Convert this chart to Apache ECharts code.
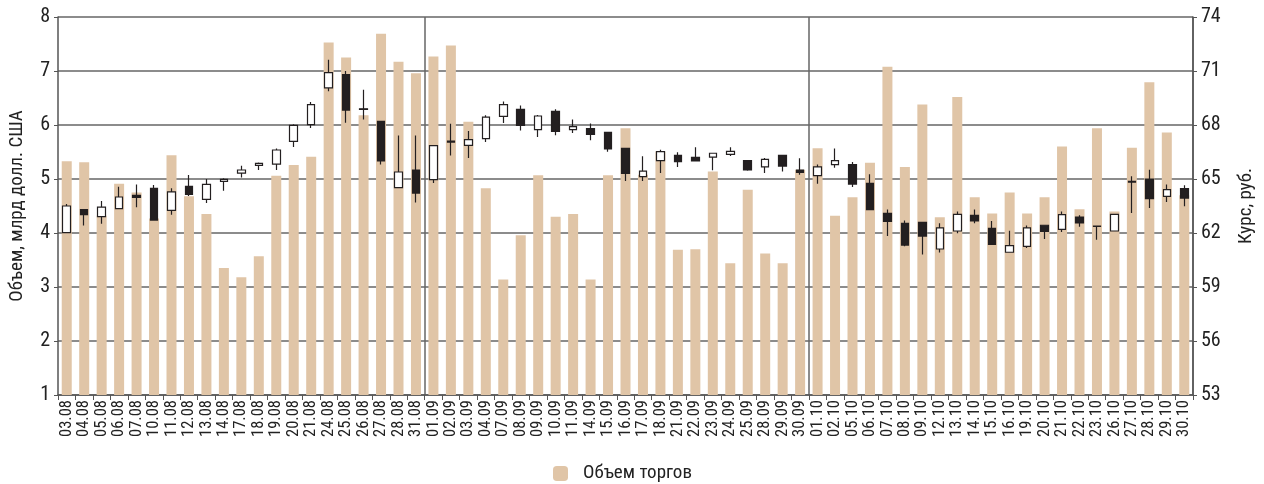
<!DOCTYPE html>
<html>
<head>
<meta charset="utf-8">
<script src="https://cdn.jsdelivr.net/npm/echarts@6/dist/echarts.min.js"></script>
<style>
html,body{margin:0;padding:0;background:#fff;}
#chart{width:1264px;height:484px;}
</style>
</head>
<body>
<div id="chart"></div>
<script>
const categories = ['03.08','04.08','05.08','06.08','07.08','10.08','11.08','12.08','13.08','14.08','17.08','18.08','19.08','20.08','21.08','24.08','25.08','26.08','27.08','28.08','31.08',
'01.09','02.09','03.09','04.09','07.09','08.09','09.09','10.09','11.09','14.09','15.09','16.09','17.09','18.09','21.09','22.09','23.09','24.09','25.09','28.09','29.09','30.09',
'01.10','02.10','05.10','06.10','07.10','08.10','09.10','12.10','13.10','14.10','15.10','16.10','19.10','20.10','21.10','22.10','23.10','26.10','27.10','28.10','29.10','30.10'];

const volume = [5.33,5.31,4.32,4.91,4.75,4.27,5.44,4.68,4.35,3.35,3.18,3.57,5.06,5.26,5.41,7.53,7.25,6.18,7.69,7.17,6.96,
7.27,7.47,6.06,4.83,3.14,3.96,5.07,4.30,4.35,3.14,5.07,5.94,5.08,5.51,3.69,3.70,5.14,3.44,4.80,3.62,3.44,5.17,
5.57,4.32,4.66,5.30,7.08,5.22,6.38,4.29,6.52,4.66,4.36,4.75,4.36,4.66,5.60,4.44,5.94,4.40,5.58,6.79,5.86,4.70];

const openP = [62.02,63.30,62.91,63.35,64.09,64.48,63.26,64.59,63.87,64.87,65.33,65.76,65.83,67.09,68.02,70.06,70.80,68.90,68.20,64.52,65.50,
64.96,67.05,66.87,67.24,68.48,68.87,67.74,68.76,67.74,67.80,67.59,66.70,65.13,66.02,66.31,66.20,66.22,66.37,66.02,65.67,66.31,65.50,
65.19,65.80,65.80,64.76,63.09,62.54,62.59,61.11,62.11,62.98,62.26,60.93,61.26,62.43,62.20,62.89,62.39,62.11,64.83,65.00,64.04,64.46];
const closeP = [63.50,63.02,63.44,64.00,63.98,62.72,64.28,64.15,64.70,64.98,65.50,65.87,66.61,67.98,69.13,70.91,68.83,68.87,66.00,65.39,64.22,
66.85,67.10,67.19,68.44,69.13,67.98,68.50,67.65,67.91,67.48,66.67,65.31,65.44,66.52,65.96,66.00,66.43,66.54,65.50,66.09,65.72,65.37,
65.67,66.02,64.72,63.30,62.65,61.33,61.83,62.28,63.04,62.67,61.37,61.30,62.28,62.09,63.02,62.56,62.37,63.04,64.87,63.91,64.41,63.94];
const lowP = [61.98,62.41,62.52,63.33,63.43,62.69,63.02,64.06,63.67,64.35,65.09,65.50,65.50,66.78,67.83,69.87,68.13,68.30,65.80,64.52,63.70,
64.78,66.30,66.17,67.06,68.11,67.70,67.33,67.43,67.56,67.15,66.52,64.89,64.89,65.33,65.67,66.00,65.48,66.28,65.46,65.33,65.41,65.24,
64.74,65.63,64.56,63.30,61.83,61.26,60.81,60.91,61.98,62.54,61.33,60.93,61.17,61.67,62.06,62.35,61.63,62.11,63.11,63.39,63.72,63.48];
const highP = [63.61,63.30,63.78,64.57,64.69,64.67,64.48,65.22,65.00,65.04,65.74,65.91,66.70,68.04,69.28,71.63,71.00,69.96,68.20,67.41,67.41,
66.87,68.07,67.67,68.54,69.30,69.09,68.56,68.87,68.30,68.09,67.63,66.70,66.26,66.63,66.48,66.76,66.46,66.76,66.04,66.17,66.35,66.15,
65.80,66.69,65.94,65.26,63.30,62.70,62.59,62.54,63.20,63.30,62.67,62.13,62.41,62.43,63.20,62.98,62.39,63.04,65.15,65.52,64.70,64.65];

const monthStarts = [21, 43];

const FONT = "'Liberation Sans Narrow','Roboto Condensed','DejaVu Sans Condensed','Liberation Sans',sans-serif";
const candleData = categories.map((c, i) => [openP[i], closeP[i], lowP[i], highP[i]]);

const chart = echarts.init(document.getElementById('chart'), null, {renderer: 'canvas'});
chart.setOption({
  animation: false,
  backgroundColor: '#fff',
  grid: {left: 52, right: 63, top: 17, bottom: 89, containLabel: false},
  legend: {
    data: ['Объем торгов'],
    left: 548, top: 459,
    itemWidth: 15, itemHeight: 15, itemGap: 10,
    textStyle: {fontFamily: FONT, fontSize: 19, color: '#222', padding: [0, 0, 0, 10]}
  },
  xAxis: {
    type: 'category',
    data: categories,
    boundaryGap: true,
    axisLine: {lineStyle: {color: '#555', width: 1.5}},
    axisTick: {show: true, interval: 0, length: 5, lineStyle: {color: '#555'}},
    axisLabel: {interval: 0, rotate: 90, fontFamily: FONT, fontSize: 16.5, color: '#222', margin: 5},
    splitLine: {show: true, interval: (idx) => monthStarts.indexOf(idx) >= 0, lineStyle: {color: '#666', width: 1.5}}
  },
  yAxis: [
    {
      type: 'value', min: 1, max: 8, interval: 1, position: 'left',
      name: 'Объем, млрд долл. США', nameLocation: 'middle', nameRotate: 90, nameGap: 31,
      nameTextStyle: {fontFamily: FONT, fontSize: 19, color: '#222'},
      axisLine: {show: true, lineStyle: {color: '#555', width: 1.5}},
      axisTick: {show: true, length: 4, lineStyle: {color: '#555'}},
      axisLabel: {fontFamily: FONT, fontSize: 20, color: '#222', margin: 8},
      splitLine: {show: true, lineStyle: {color: '#666', width: 1.5}}
    },
    {
      type: 'value', min: 53, max: 74, interval: 3, position: 'right',
      name: 'Курс, руб.', nameLocation: 'middle', nameRotate: 90, nameGap: 44,
      nameTextStyle: {fontFamily: FONT, fontSize: 19, color: '#222'},
      axisLine: {show: true, lineStyle: {color: '#555', width: 1.5}},
      axisTick: {show: true, length: 4, lineStyle: {color: '#555'}},
      axisLabel: {fontFamily: FONT, fontSize: 20, color: '#222', margin: 8},
      splitLine: {show: false}
    }
  ],
  series: [
    {
      name: 'Объем торгов', type: 'bar', yAxisIndex: 0,
      data: volume, barWidth: 10,
      itemStyle: {color: '#E0C5A7'}
    },
    {
      name: 'Курс', type: 'candlestick', yAxisIndex: 1,
      data: candleData, barWidth: 8,
      itemStyle: {color: '#ffffff', color0: '#231f20', borderColor: '#231f20', borderColor0: '#231f20', borderWidth: 1.2}
    }
  ]
});
</script>
</body>
</html>
